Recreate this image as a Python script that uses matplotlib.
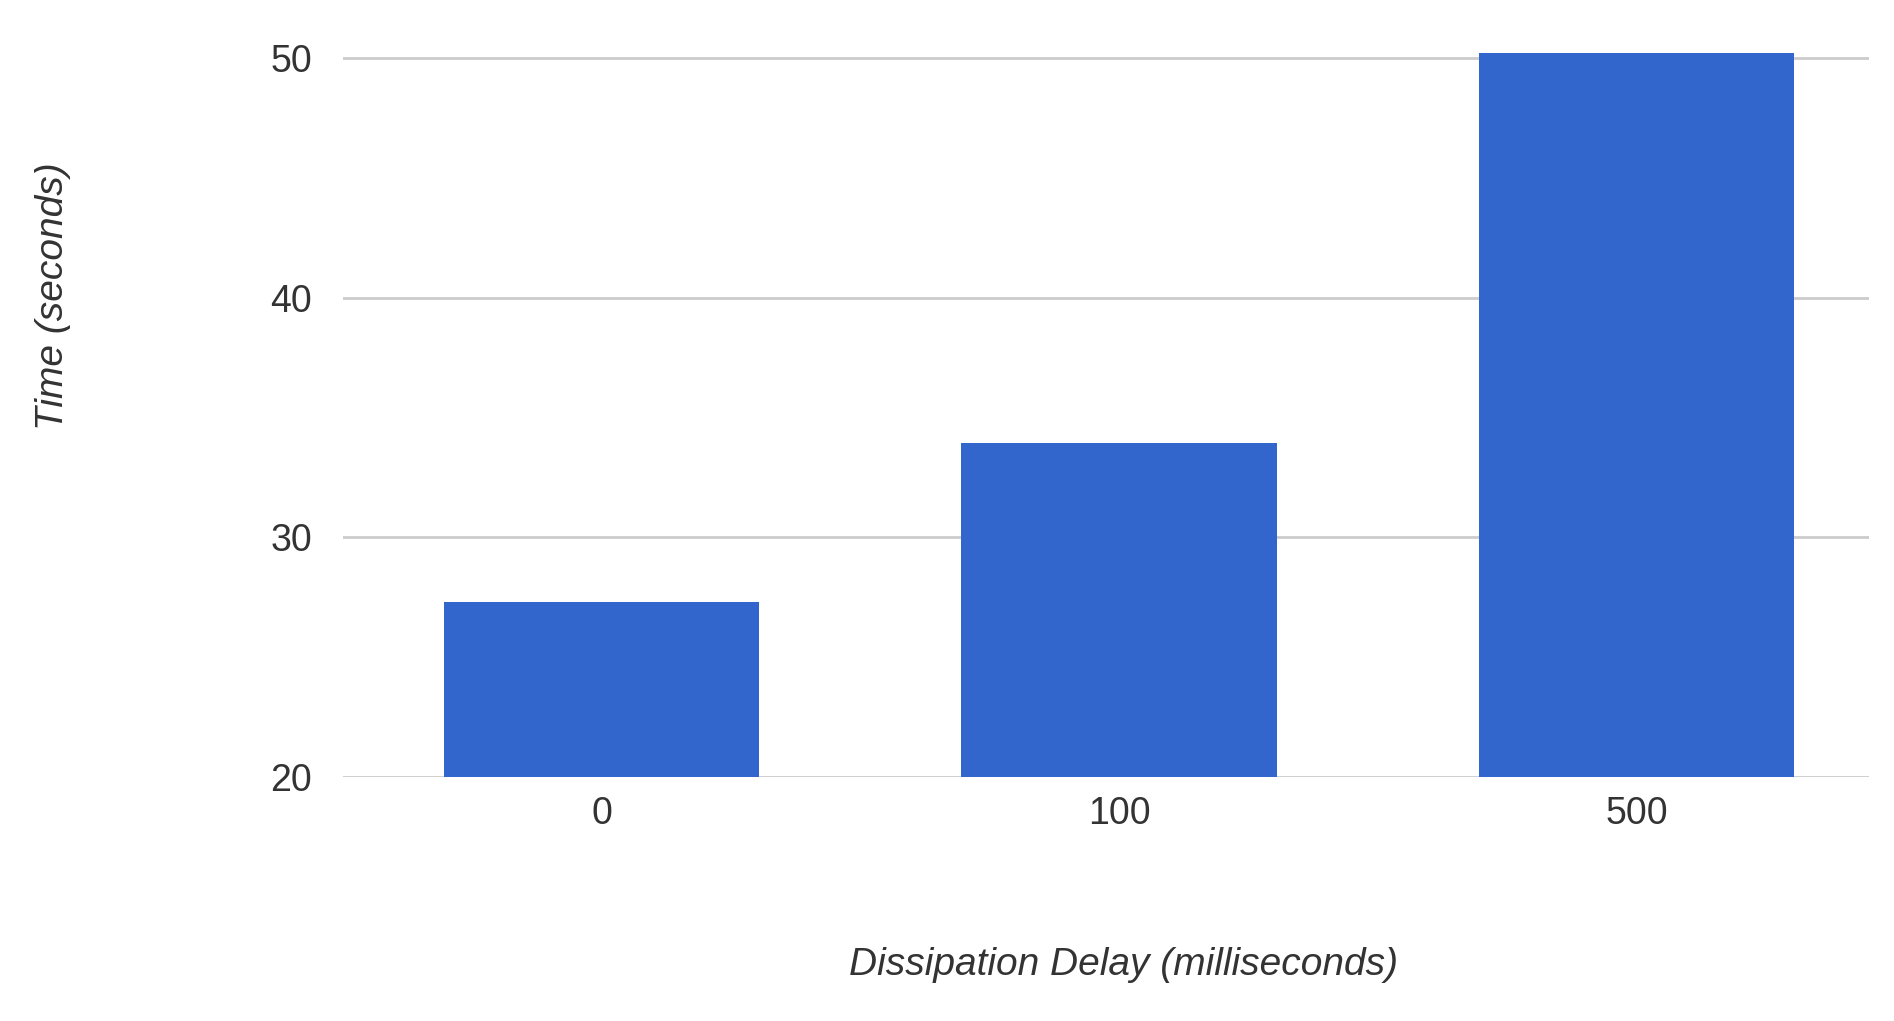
import matplotlib
matplotlib.use('Agg')
import matplotlib.pyplot as plt

categories = ['0', '100', '500']
times = [27.3, 33.95, 50.2]

plt.rcParams['font.family'] = ['Liberation Sans', 'DejaVu Sans']

fig = plt.figure(figsize=(18.94, 10.21), dpi=100)
ax = fig.add_axes([0.181, 0.239, 0.806, 0.716])
x = range(len(categories))
ax.bar(x, times, width=0.61, color='#3366cc', zorder=3, bottom=0)
ax.set_ylim(20, 50.5)
ax.set_xlim(-0.5, 2.45)
ax.set_yticks([20, 30, 40, 50])
ax.set_xticks(list(x))
ax.set_xticklabels(categories)
ax.grid(axis='y', color='#cccccc', linewidth=2, zorder=0)
for s in ax.spines.values():
    s.set_visible(False)
ax.tick_params(length=0, labelsize=27, labelcolor='#333333', pad=14)
ax.tick_params(axis='y', pad=22)
fig.text(0.028, 0.71, 'Time (seconds)', rotation=90, ha='center', va='center',
         fontsize=28, style='italic', color='#333333')
fig.text(0.593, 0.055, 'Dissipation Delay (milliseconds)', ha='center', va='center',
         fontsize=28, style='italic', color='#333333')
fig.savefig('out.png')
